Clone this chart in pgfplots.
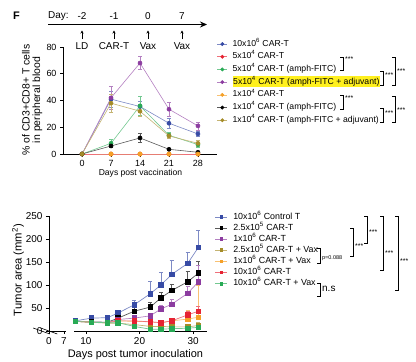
\documentclass[border=0pt]{standalone}
\usepackage{fontspec}
\setmainfont{Liberation Sans}
\usepackage{pgfplots}
\pgfplotsset{compat=1.18}
\usetikzlibrary{arrows.meta}

\definecolor{cblue}{RGB}{55,75,165}
\definecolor{cred}{RGB}{230,35,50}
\definecolor{cgreen}{RGB}{40,170,85}
\definecolor{cpurple}{RGB}{140,60,160}
\definecolor{corange}{RGB}{245,160,40}
\definecolor{colive}{RGB}{165,140,40}
\definecolor{cblack}{RGB}{0,0,0}
\definecolor{hl}{RGB}{255,240,30}

\pgfplotsset{
  s/.style={color=#1!65, line width=0.6bp, mark options={fill=#1, draw=#1, solid},
    error bars/y dir=both, error bars/y explicit,
    error bars/error bar style={#1!65, line width=0.5bp},
    error bars/error mark options={rotate=90, mark size=2bp, #1!65, line width=0.5bp}},
  sp/.style={s=#1, line width=0.7bp, error bars/y dir=plus},
}

\newcommand{\brk}[3]{\draw[line width=0.6bp] (#1-3,#2) -- (#1,#2) -- (#1,#3) -- (#1-3,#3);}

\begin{document}
\begin{tikzpicture}
\useasboundingbox (0,0) rectangle (416bp,-362bp);

\begin{scope}[x=1bp,y=-1bp]
\node[font=\fontsize{11}{13}\selectfont\bfseries] at (16.5,16) {F};
\node[anchor=west, font=\fontsize{10}{12}\selectfont, inner sep=0pt] at (48,16.5) {Day:};
\draw[-{Stealth[length=7bp,width=6bp]}, line width=0.8bp] (48,24.5) -- (207,24.5);
\foreach \x/\d/\l in {82/-2/LD, 114/-1/CAR-T, 148/0/Vax, 182/7/Vax} {
  \node[font=\fontsize{10}{12}\selectfont, inner sep=0pt] at (\x,16.5) {\d};
  \draw[-{Stealth[length=3bp,width=3bp]}, line width=0.5bp] (\x,39) -- (\x,30.5);
  \node[font=\fontsize{10}{12}\selectfont, inner sep=0pt] at (\x,46.5) {\l};
}
\end{scope}

% ---------------- top panel
\begin{axis}[at={(63bp,-154bp)}, anchor=south west, scale only axis,
  width=154bp, height=107bp,
  xmin=-4.6, xmax=32.6, ymin=0, ymax=80,
  axis lines*=left, axis line style={line width=0.6bp},
  xtick={0,7,14,21,28}, ytick={0,20,40,60,80},
  tick align=outside, major tick length=3bp, tick style={line width=0.6bp, black},
  ticklabel style={font=\fontsize{9}{10}\selectfont},
  /pgf/number format/assume math mode=true,
  xlabel={Days post vaccination},
  xlabel style={font=\fontsize{8.6}{10}\selectfont, at={(axis description cs:0.503,-0.178)}, anchor=center},
  ylabel={\% of CD3+CD8+ T cells\\in peripheral blood},
  ylabel style={align=center, font=\fontsize{10.5}{10.5}\selectfont, at={(axis description cs:-0.2,0.505)}, anchor=center},
  clip=false,
  legend style={draw=none, fill=none, at={(axis description cs:1.0,1.065)}, anchor=north west,
    inner sep=0pt, outer sep=0pt, row sep=4.7bp, column sep=5bp,
    font=\fontsize{8.7}{10}\selectfont,
    nodes={inner sep=0pt, text height=6bp, text depth=2bp}},
  legend cell align=left,
  legend image code/.code={\draw[mark repeat=2,mark phase=2,#1] plot coordinates {(0bp,0bp) (5bp,0bp) (10bp,0bp)};},
  legend image post style={mark size=1.6bp},
]
\addplot[s=cblue, mark=*, mark size=2bp] coordinates {(0,0)+-(0,0) (7,41)+-(0,6) (14,35.5)+-(0,4) (21,23)+-(0,3.5) (28,15)+-(0,2)};
\addlegendentry{10x10\textsuperscript{6} CAR-T}
\addplot[s=cred, mark=*, mark size=2bp] coordinates {(0,0)+-(0,0) (7,0)+-(0,0) (14,0)+-(0,0) (21,0)+-(0,0) (28,0)+-(0,0)};
\addlegendentry{5x10\textsuperscript{4} CAR-T}
\addplot[s=cgreen, mark=*, mark size=2bp] coordinates {(0,0)+-(0,0) (7,8)+-(0,3) (14,36)+-(0,7) (21,14)+-(0,2) (28,7)+-(0,2)};
\addlegendentry{5x10\textsuperscript{4} CAR-T (amph-FITC)}
\addplot[s=cpurple, mark=*, mark size=2bp] coordinates {(0,0)+-(0,0) (7,42)+-(0,8.5) (14,68)+-(0,5) (21,33.5)+-(0,5) (28,21)+-(0,3)};
\addlegendentry{\setlength{\fboxsep}{0.6bp}\colorbox{hl}{5x10\textsuperscript{4} CAR-T (amph-FITC + adjuvant)}}
\addplot[s=corange, mark=*, mark size=2bp] coordinates {(0,0)+-(0,0) (7,0)+-(0,0) (14,0)+-(0,0) (21,0)+-(0,0) (28,0)+-(0,0)};
\addlegendentry{1x10\textsuperscript{4} CAR-T}
\addplot[s=cblack, mark=*, mark size=2bp] coordinates {(0,0)+-(0,0) (7,6)+-(0,1) (14,12)+-(0,3.5) (21,3.5)+-(0,1) (28,1.3)+-(0,1)};
\addlegendentry{1x10\textsuperscript{4} CAR-T (amph-FITC)}
\addplot[s=colive, mark=*, mark size=2bp] coordinates {(0,0)+-(0,0) (7,38)+-(0,6.5) (14,32)+-(0,3.5) (21,13.5)+-(0,2) (28,8)+-(0,2)};
\addlegendentry{1x10\textsuperscript{4} CAR-T (amph-FITC + adjuvant)}
\addplot[s=cred, mark=none, forget plot] coordinates {(0,0)+-(0,0) (7,0)+-(0,0) (14,0)+-(0,0) (21,0)+-(0,0) (28,0)+-(0,0)};
\addplot[s=corange, only marks, mark=*, mark size=2bp, forget plot] coordinates {(7,0)+-(0,0) (14,0)+-(0,0) (21,0)+-(0,0) (28,0)+-(0,0)};
\end{axis}

% ---------------- bottom panel
\begin{axis}[at={(49bp,-331bp)}, anchor=south west, scale only axis,
  width=158bp, height=115bp,
  xmin=3.1, xmax=32.6, ymin=0, ymax=250,
  axis lines*=left, axis line style={line width=0.6bp},
  xtick={3.1,5.9,10,20,30}, xticklabels={0,7,10,20,30}, ytick={0,50,100,150,200,250},
  tick align=outside, major tick length=3bp, tick style={line width=0.6bp, black},
  ticklabel style={font=\fontsize{10}{11}\selectfont},
  /pgf/number format/assume math mode=true,
  xlabel={Days post tumor inoculation},
  xlabel style={font=\fontsize{11}{12}\selectfont, at={(axis description cs:0.547,-0.209)}, anchor=center},
  ylabel={Tumor area (mm\textsuperscript{2})},
  ylabel style={font=\fontsize{11.3}{12}\selectfont, at={(axis description cs:-0.196,0.53)}, anchor=center},
  clip=false,
  legend style={draw=none, fill=none, at={(axis description cs:1.051,1.029)}, anchor=north west,
    inner sep=0pt, outer sep=0pt, row sep=2.6bp, column sep=5.5bp,
    font=\fontsize{8.9}{10}\selectfont,
    nodes={inner sep=0pt, text height=6.5bp, text depth=2bp}},
  legend cell align=left,
  legend image code/.code={\draw[mark repeat=2,mark phase=2,#1] plot coordinates {(0bp,0bp) (6bp,0bp) (12bp,0bp)};},
  legend image post style={mark size=1.4bp},
]
\addplot[sp=cblue, mark=square*, mark size=2.3bp] coordinates {(8,22)+-(0,3) (11,28)+-(0,4) (14,29)+-(0,3) (16,39)+-(0,5) (19,57)+-(0,10) (22,81)+-(0,27) (24,100)+-(0,27) (26,123)+-(0,30) (29,147)+-(0,24) (31,182)+-(0,38)};
\addlegendentry{10x10\textsuperscript{6} Control T}
\addplot[sp=cblack, mark=square*, mark size=2.3bp] coordinates {(8,21)+-(0,2) (11,20)+-(0,3) (14,19)+-(0,3) (16,28)+-(0,5) (19,43)+-(0,8) (22,52)+-(0,10) (24,72)+-(0,12) (26,88)+-(0,14) (29,107)+-(0,22) (31,126)+-(0,25)};
\addlegendentry{2.5x10\textsuperscript{5} CAR-T}
\addplot[sp=cpurple, mark=square*, mark size=2.3bp] coordinates {(8,21)+-(0,2) (11,19)+-(0,2) (14,18)+-(0,2) (16,25)+-(0,4) (19,28)+-(0,4) (22,33)+-(0,5) (24,48)+-(0,8) (26,58)+-(0,10) (29,82)+-(0,15) (31,107)+-(0,37)};
\addlegendentry{1x10\textsuperscript{6} CAR-T}
\addplot[sp=colive, mark=square*, mark size=2.3bp] coordinates {(8,21)+-(0,2) (11,19)+-(0,2) (14,17)+-(0,2) (16,17)+-(0,8) (19,14)+-(0,6) (22,10)+-(0,4) (24,10)+-(0,4) (26,9)+-(0,4) (29,9)+-(0,4) (31,12)+-(0,6)};
\addlegendentry{2.5x10\textsuperscript{5} CAR-T + Vax}
\addplot[sp=corange, mark=square*, mark size=2.3bp] coordinates {(8,21)+-(0,2) (11,19)+-(0,2) (14,18)+-(0,2) (16,22)+-(0,4) (19,21)+-(0,4) (22,20)+-(0,4) (24,18)+-(0,5) (26,22)+-(0,6) (29,26)+-(0,20) (31,30)+-(0,70)};
\addlegendentry{1x10\textsuperscript{6} CAR-T + Vax}
\addplot[sp=cred, mark=square*, mark size=2.3bp] coordinates {(8,21)+-(0,2) (11,19)+-(0,2) (14,18)+-(0,2) (16,22)+-(0,4) (19,22)+-(0,4) (22,20)+-(0,4) (24,18)+-(0,4) (26,22)+-(0,5) (29,35)+-(0,8) (31,43)+-(0,10)};
\addlegendentry{10x10\textsuperscript{6} CAR-T}
\addplot[sp=cgreen, mark=square*, mark size=2.3bp] coordinates {(8,21)+-(0,2) (11,19)+-(0,2) (14,18)+-(0,2) (16,18)+-(0,4) (19,10)+-(0,3) (22,4)+-(0,2) (24,4)+-(0,2) (26,5)+-(0,2) (29,6)+-(0,2) (31,8)+-(0,3)};
\addlegendentry{10x10\textsuperscript{6} CAR-T + Vax}
% axis break
\draw[white, line width=2.5bp] (axis cs:6.35,0) -- (axis cs:7.75,0);
\draw[line width=0.6bp] (axis cs:6.35,0) ++(0,-3bp) -- ++(0,6bp);
\draw[line width=0.6bp] (axis cs:7.75,0) ++(0,-3bp) -- ++(0,6bp);
\end{axis}

% ---------------- brackets
\begin{scope}[x=1bp,y=-1bp]
\tikzset{st/.style={font=\fontsize{7}{7}\selectfont, inner sep=0pt, anchor=west}}
\brk{343}{57}{70}   \node[st] at (345,59) {***};
\brk{383}{71}{85}   \node[st] at (385,75) {***};
\brk{395}{57}{85}   \node[st] at (397,71) {***};
\brk{343}{95}{109}  \node[st] at (345,98) {***};
\brk{383}{108}{122} \node[st] at (385,113) {***};
\brk{395}{96}{122}  \node[st] at (397,110) {***};

\brk{320}{248}{263} \node[font=\fontsize{5.5}{6}\selectfont, inner sep=0pt, anchor=west] at (322,258) {p=0.088};
\brk{320}{283}{296} \node[font=\fontsize{10}{11}\selectfont, inner sep=0pt, anchor=west] at (322,289) {n.s};
\brk{353}{228}{256} \node[st] at (355,246) {***};
\brk{367}{216}{243} \node[st] at (369,232) {***};
\brk{383}{216}{270} \node[st] at (385,253) {***};
\brk{398}{216}{290} \node[st] at (400,261) {***};
\end{scope}
\end{tikzpicture}
\end{document}
